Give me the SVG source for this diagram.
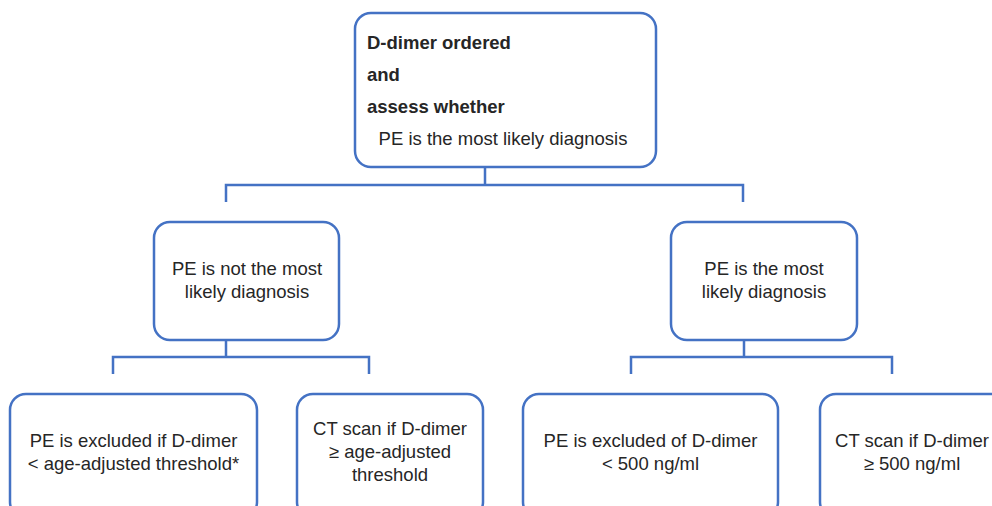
<svg xmlns="http://www.w3.org/2000/svg" width="992" height="506" viewBox="0 0 992 506">
<style>
.box{fill:#fff;stroke:#4472C4;stroke-width:2.5}
.ln{fill:none;stroke:#4472C4;stroke-width:2.5}
text{font-family:"Liberation Sans",Arial,sans-serif;font-size:18.5px;fill:#262626}
.c{text-anchor:middle}
.b{font-weight:bold}
</style>
<rect width="992" height="506" fill="#fff"/>
<g id="connectors">
<path class="ln" d="M485 167V185M226 202V185H743V202"/>
<path class="ln" d="M226 340V357M113 374V357H369V374"/>
<path class="ln" d="M744 340V357M631 374V357H892V374"/>
</g>
<g id="n-top">
<rect class="box" x="355" y="13" width="301" height="154" rx="16"/>
<text class="b" x="367" y="49">D-dimer ordered</text>
<text class="b" x="367" y="81">and</text>
<text class="b" x="367" y="113">assess whether</text>
<text class="c" x="503" y="145">PE is the most likely diagnosis</text>
</g>
<g id="n-notlikely">
<rect class="box" x="154" y="222" width="185" height="118" rx="16"/>
<text class="c" x="247" y="275">PE is not the most</text>
<text class="c" x="247" y="298">likely diagnosis</text>
</g>
<g id="n-likely">
<rect class="box" x="671" y="222" width="186" height="118" rx="16"/>
<text class="c" x="764" y="275">PE is the most</text>
<text class="c" x="764" y="298">likely diagnosis</text>
</g>
<g id="n-excl-age">
<rect class="box" x="10" y="394" width="247" height="124" rx="16"/>
<text class="c" x="133.5" y="447">PE is excluded if D-dimer</text>
<text class="c" x="133.5" y="470">&lt; age-adjusted threshold*</text>
</g>
<g id="n-ct-age">
<rect class="box" x="297" y="394" width="186" height="124" rx="16"/>
<text class="c" x="390" y="435">CT scan if D-dimer</text>
<text class="c" x="390" y="458">≥ age-adjusted</text>
<text class="c" x="390" y="481">threshold</text>
</g>
<g id="n-excl-500">
<rect class="box" x="523" y="394" width="255" height="124" rx="16"/>
<text class="c" x="650.5" y="447">PE is excluded of D-dimer</text>
<text class="c" x="650.5" y="470">&lt; 500 ng/ml</text>
</g>
<g id="n-ct-500">
<rect class="box" x="820" y="394" width="186" height="124" rx="16"/>
<text class="c" x="912" y="447">CT scan if D-dimer</text>
<text class="c" x="912" y="470">≥ 500 ng/ml</text>
</g>
</svg>
